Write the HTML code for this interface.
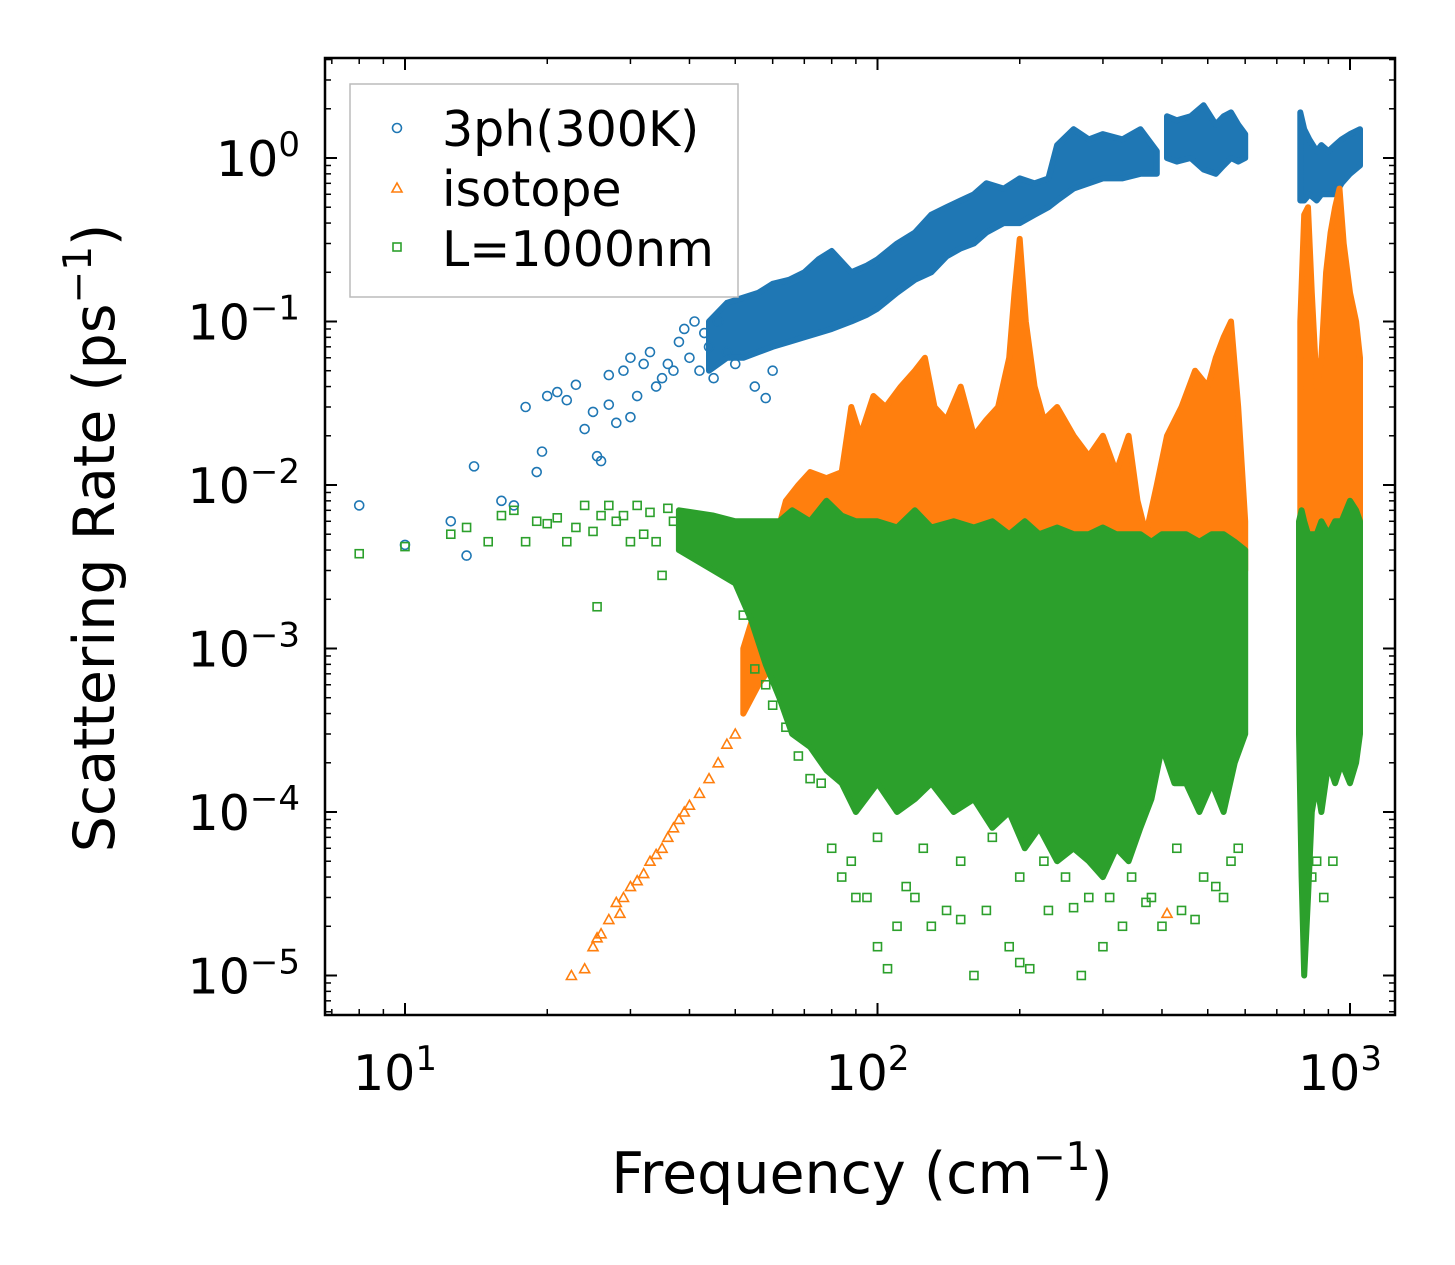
<!DOCTYPE html>
<html><head><meta charset="utf-8"><style>
html,body{margin:0;padding:0;background:#fff}
svg{display:block;font-family:"DejaVu Sans","Liberation Sans",sans-serif}
</style></head><body>
<svg id="chart" width="1455" height="1265" viewBox="0 0 1455 1265" xmlns="http://www.w3.org/2000/svg">
<rect width="1455" height="1265" fill="#fff"/>
<g id="bands"></g>
<g id="points"></g>
<g id="axes"></g>
<text x="862" y="1193" font-size="57" text-anchor="middle">Frequency (cm<tspan dy="-23" font-size="39">−1</tspan><tspan dy="23">)</tspan></text>
<text transform="translate(114,538) rotate(-90)" font-size="57" text-anchor="middle">Scattering Rate (ps<tspan dy="-23" font-size="39">−1</tspan><tspan dy="23">)</tspan></text>
<g>
<rect x="350" y="84" width="388" height="213" fill="#fff" stroke="#bbb" stroke-width="1.5"/>
<circle cx="397" cy="128" r="4.5" fill="none" stroke="#1f77b4" stroke-width="1.6"/>
<text x="442" y="146" font-size="49">3ph(300K)</text>
<path d="M397,183 L402,192 L392,192 Z" fill="none" stroke="#ff7f0e" stroke-width="1.6"/>
<text x="442" y="206" font-size="49">isotope</text>
<rect x="393" y="243" width="8" height="8" fill="none" stroke="#2ca02c" stroke-width="1.6"/>
<text x="442" y="266" font-size="49">L=1000nm</text>
</g>
</svg>
<script>
// ---- data ----
const xTicks = [10, 100, 1000];
const xTickLabels = ["10","10","10"];
const xTickExps = ["1","2","3"];
const yTicks = [1, 0.1, 0.01, 0.001, 0.0001, 0.00001];
const yTickExps = ["0","−1","−2","−3","−4","−5"];

const blueFreqA = [44,48,52,56,60,65,70,75,80,88,95,100,110,120,130,140,150,160,170,185,200,215,230,240,260,280,300,330,360,390];
const blueLowA  = [0.05,0.06,0.06,0.065,0.07,0.075,0.08,0.085,0.09,0.1,0.11,0.12,0.15,0.18,0.2,0.25,0.28,0.3,0.35,0.4,0.4,0.45,0.5,0.55,0.65,0.7,0.75,0.75,0.8,0.8];
const blueHighA = [0.1,0.13,0.14,0.15,0.17,0.18,0.2,0.24,0.27,0.2,0.22,0.24,0.3,0.35,0.45,0.5,0.55,0.6,0.7,0.65,0.75,0.7,0.75,1.2,1.5,1.3,1.4,1.3,1.5,1.1];
const blueFreqB = [410,430,460,490,520,540,560,580,600];
const blueLowB  = [1.0,0.95,1.0,0.85,0.8,0.9,1.0,0.95,1.0];
const blueHighB = [1.8,1.7,1.8,2.1,1.6,1.8,1.9,1.6,1.4];
const blueFreqC = [785,800,820,850,870,900,930,960,1000,1050];
const blueLowC  = [0.55,0.55,0.6,0.55,0.6,0.6,0.6,0.7,0.8,0.9];
const blueHighC = [1.9,1.5,1.3,1.1,1.2,1.1,1.2,1.3,1.4,1.5];

const orangeFreqA = [52,56,60,64,68,72,78,84,88,92,98,104,112,120,126,132,140,150,160,170,180,190,195,200,206,215,225,240,260,280,300,320,340,355,370,390,410,440,470,500,520,540,560,580,600];
const orangeLowA  = [0.0004,0.0006,0.0008,0.0012,0.002,0.003,0.003,0.003,0.003,0.004,0.004,0.004,0.004,0.004,0.004,0.004,0.003,0.003,0.003,0.003,0.003,0.003,0.003,0.003,0.003,0.003,0.002,0.002,0.002,0.002,0.002,0.002,0.002,0.002,0.002,0.002,0.003,0.003,0.003,0.003,0.003,0.003,0.003,0.003,0.003];
const orangeHighA = [0.001,0.002,0.004,0.008,0.01,0.012,0.011,0.012,0.03,0.02,0.035,0.03,0.04,0.05,0.06,0.03,0.025,0.04,0.02,0.025,0.03,0.06,0.15,0.32,0.1,0.04,0.025,0.03,0.02,0.015,0.02,0.012,0.02,0.008,0.005,0.01,0.02,0.03,0.05,0.04,0.06,0.08,0.1,0.03,0.006];
const orangeFreqB = [785,800,815,830,850,870,890,910,930,950,970,1000,1030,1050];
const orangeLowB  = [0.003,0.003,0.003,0.003,0.003,0.003,0.003,0.003,0.003,0.003,0.003,0.003,0.003,0.003];
const orangeHighB = [0.1,0.45,0.5,0.15,0.04,0.06,0.2,0.35,0.5,0.65,0.3,0.15,0.1,0.06];

const greenFreqA = [38,45,50,54,58,62,66,72,78,84,90,100,110,120,130,145,160,175,190,205,220,240,260,280,300,320,340,360,380,400,425,450,480,510,540,570,600];
const greenLowA  = [0.004,0.003,0.0025,0.0015,0.0008,0.0005,0.0003,0.00025,0.00018,0.00015,0.0001,0.00015,0.0001,0.00012,0.00015,0.0001,0.00012,0.00008,0.0001,0.00006,0.00008,0.00005,0.00006,0.00005,0.00004,0.00006,0.00005,0.00008,0.00012,0.00025,0.00015,0.00015,0.0001,0.00015,0.0001,0.0002,0.0003];
const greenHighA = [0.007,0.0065,0.006,0.006,0.006,0.006,0.007,0.006,0.008,0.0065,0.006,0.006,0.0055,0.007,0.0055,0.006,0.0055,0.006,0.005,0.006,0.005,0.0055,0.005,0.005,0.0055,0.005,0.005,0.005,0.0045,0.005,0.005,0.005,0.0045,0.005,0.005,0.0045,0.004];
const greenFreqB = [780,790,800,815,830,850,870,900,930,960,1000,1030,1050];
const greenLowB  = [0.0003,0.00004,0.00001,0.00003,0.0001,0.00015,0.0001,0.0002,0.00015,0.0002,0.00015,0.0002,0.0003];
const greenHighB = [0.006,0.007,0.006,0.005,0.005,0.005,0.006,0.005,0.006,0.006,0.008,0.007,0.006];

const blueX = [8,10,12.5,13.5,14,16,17,18,19,19.5,20,21,22,23,24,25,25.5,26,27,27,28,29,30,30,31,32,33,34,35,36,37,38,39,40,41,42,43,44,45,46,48,50,55,58,60];
const blueY = [0.0075,0.0043,0.006,0.0037,0.013,0.008,0.0075,0.03,0.012,0.016,0.035,0.037,0.033,0.041,0.022,0.028,0.015,0.014,0.031,0.047,0.024,0.05,0.026,0.06,0.035,0.055,0.065,0.04,0.045,0.055,0.05,0.075,0.09,0.06,0.1,0.05,0.085,0.07,0.045,0.1,0.065,0.055,0.04,0.034,0.05];
const orangeX = [22.5,24,25,25.5,26,27,28,28.5,29,30,31,32,33,34,35,36,37,38,39,40,42,44,46,48,50,410];
const orangeY = [0.00001,0.000011,0.000015,0.000017,0.000018,0.000022,0.000028,0.000024,0.00003,0.000035,0.000038,0.000042,0.00005,0.000055,0.00006,0.00007,0.00008,0.00009,0.0001,0.00011,0.00013,0.00016,0.0002,0.00026,0.0003,0.000024];
const greenX = [8,10,12.5,13.5,15,16,17,18,19,20,21,22,23,24,25,26,27,28,29,30,31,32,33,34,35,36,37,25.5,52,55,58,60,64,68,72,76,80,84,88,90,95,100,105,110,115,120,130,140,150,160,170,190,200,210,230,260,270,300,330,370,400,440,470,520,560,100,125,150,175,200,225,250,280,310,345,380,430,490,540,580,830,850,880,920];
const greenY = [0.0038,0.0042,0.005,0.0055,0.0045,0.0065,0.007,0.0045,0.006,0.0058,0.0063,0.0045,0.0055,0.0075,0.0052,0.0065,0.0075,0.006,0.0065,0.0045,0.0075,0.005,0.0068,0.0045,0.0028,0.0072,0.006,0.0018,0.0016,0.00075,0.0006,0.00045,0.00033,0.00022,0.00016,0.00015,0.00006,0.00004,0.00005,0.00003,0.00003,0.000015,0.000011,0.00002,0.000035,0.00003,0.00002,0.000025,0.000022,0.00001,0.000025,0.000015,0.000012,0.000011,0.000025,0.000026,0.00001,0.000015,0.00002,0.000028,0.00002,0.000025,0.000022,0.000035,0.00005,0.00007,0.00006,0.00005,0.00007,0.00004,0.00005,0.00004,0.00003,0.00003,0.00004,0.00003,0.00006,0.00004,0.00003,0.00006,0.00004,0.00005,0.00003,0.00005];

const L=325,R=1395,T=58,B=1015;
const X0=405, XD=472.5, Y0=158, YD=163.5;
const xs = v => X0 + (Math.log10(v)-1)*XD;
const ys = v => Y0 - Math.log10(v)*YD;
const NS="http://www.w3.org/2000/svg";
function mk(tag, parent){const e=document.createElementNS(NS,tag);parent.appendChild(e);return e;}

const bands=document.getElementById('bands');
function band(fr,lo,hi,color,name){
  let d="M"+fr.map((f,i)=>xs(f).toFixed(1)+","+ys(hi[i]).toFixed(1)).join(" L");
  for(let i=fr.length-1;i>=0;i--) d+=" L"+xs(fr[i]).toFixed(1)+","+ys(lo[i]).toFixed(1);
  d+=" Z";
  const p=mk('path',bands);
  p.setAttribute('d',d);p.setAttribute('fill',color);p.setAttribute('stroke',color);p.setAttribute('stroke-width','6');p.setAttribute('stroke-linejoin','round');
  
  
}
band(blueFreqA,blueLowA,blueHighA,'#1f77b4','3ph-cloud-low');
band(blueFreqB,blueLowB,blueHighB,'#1f77b4','3ph-cloud-mid');
band(blueFreqC,blueLowC,blueHighC,'#1f77b4','3ph-cloud-high');
band(orangeFreqA,orangeLowA,orangeHighA,'#ff7f0e','isotope-cloud-low');
band(orangeFreqB,orangeLowB,orangeHighB,'#ff7f0e','isotope-cloud-high');
band(greenFreqA,greenLowA,greenHighA,'#2ca02c','boundary-cloud-low');
band(greenFreqB,greenLowB,greenHighB,'#2ca02c','boundary-cloud-high');

const pts=document.getElementById('points');
blueX.forEach((x,i)=>{const c=mk('circle',pts);c.setAttribute('cx',xs(x));c.setAttribute('cy',ys(blueY[i]));c.setAttribute('r',4.5);c.setAttribute('fill','none');c.setAttribute('stroke','#1f77b4');c.setAttribute('stroke-width',1.6);
  
  });
orangeX.forEach((x,i)=>{const c=mk('path',pts);const px=xs(x),py=ys(orangeY[i]);c.setAttribute('d',`M${px},${py-5} L${px+5},${py+4} L${px-5},${py+4} Z`);c.setAttribute('fill','none');c.setAttribute('stroke','#ff7f0e');c.setAttribute('stroke-width',1.6);
  
  });
greenX.forEach((x,i)=>{const c=mk('rect',pts);c.setAttribute('x',xs(x)-4);c.setAttribute('y',ys(greenY[i])-4);c.setAttribute('width',8);c.setAttribute('height',8);c.setAttribute('fill','none');c.setAttribute('stroke','#2ca02c');c.setAttribute('stroke-width',1.6);
  
  });

const ax=document.getElementById('axes');
const frame=mk('rect',ax);
frame.setAttribute('x',L);frame.setAttribute('y',T);frame.setAttribute('width',R-L);frame.setAttribute('height',B-T);frame.setAttribute('fill','none');frame.setAttribute('stroke','#000');frame.setAttribute('stroke-width',2.5);


function line(x1,y1,x2,y2,w,name){const l=mk('line',ax);l.setAttribute('x1',x1);l.setAttribute('y1',y1);l.setAttribute('x2',x2);l.setAttribute('y2',y2);l.setAttribute('stroke','#000');l.setAttribute('stroke-width',w);
  
  }
for(let d=0;d<4;d++){for(let m=1;m<10;m++){const v=m*Math.pow(10,d);const px=xs(v);if(px<L||px>R)continue;const len=m===1?12:6;const w=m===1?2:1.5;line(px,B,px,B-len,w,'x-tick');line(px,T,px,T+len,w,'x-tick');}}
xTicks.forEach((v,i)=>{const t=mk('text',ax);t.setAttribute('x',xs(v)-10);t.setAttribute('y',1090);t.setAttribute('font-size',49);t.setAttribute('text-anchor','middle');t.textContent=xTickLabels[i];
  const s=mk('tspan',t);s.setAttribute('dy',-20);s.setAttribute('font-size',34);s.textContent=xTickExps[i];
  
  });
for(let d=-6;d<1;d++){for(let m=1;m<10;m++){const v=m*Math.pow(10,d);const py=ys(v);if(py<T||py>B)continue;const len=m===1?12:6;const w=m===1?2:1.5;line(L,py,L+len,py,w,'y-tick');line(R,py,R-len,py,w,'y-tick');}}
yTicks.forEach((v,i)=>{const t=mk('text',ax);t.setAttribute('x',300);t.setAttribute('y',ys(v)+18);t.setAttribute('font-size',49);t.setAttribute('text-anchor','end');
  const a=mk('tspan',t);a.textContent='10';
  const s=mk('tspan',t);s.setAttribute('dy',-20);s.setAttribute('font-size',34);s.textContent=yTickExps[i];
  
  });
</script>
</body></html>
